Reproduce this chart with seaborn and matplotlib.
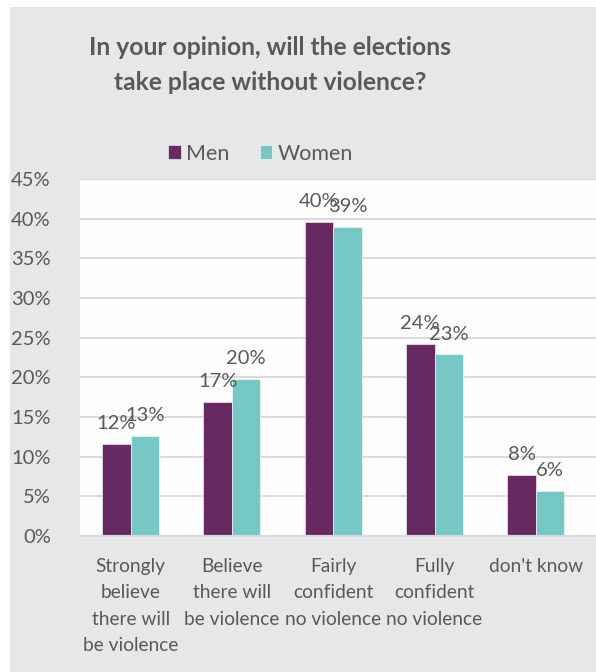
import matplotlib
matplotlib.use("Agg")
import matplotlib.pyplot as plt
from matplotlib.patches import Rectangle
import seaborn as sns
import pandas as pd

categories = [
    "Strongly\nbelieve\nthere will\nbe violence",
    "Believe\nthere will\nbe violence",
    "Fairly\nconfident\nno violence",
    "Fully\nconfident\nno violence",
    "don't know",
]
men = [11.6, 16.9, 39.6, 24.2, 7.7]
women = [12.6, 19.8, 39.0, 22.9, 5.7]
groups = ["Men", "Women"]
y_ticks = [0, 5, 10, 15, 20, 25, 30, 35, 40, 45]

df = pd.DataFrame({
    "category": categories * 2,
    "group": [groups[0]] * len(categories) + [groups[1]] * len(categories),
    "value": men + women,
})

sns.set_theme(style="white")
plt.rcParams["font.family"] = ["Lato", "DejaVu Sans"]

TEXT = "#595959"
BG = "#E6E7E9"
GRID = "#D9D9D9"
palette = {"Men": "#682861", "Women": "#75C8C6"}

W, H = 596, 672
fig = plt.figure(figsize=(W / 100, H / 100), dpi=100)
fig.patch.set_facecolor("white")
fig.patches.append(Rectangle((10 / W, 0), 1, (H - 7) / H, transform=fig.transFigure,
                             facecolor=BG, edgecolor="none", zorder=-10))

# plot area in pixel terms: left 80, right runs off the figure edge
left, top, bottom = 80, 179, 536
ax = fig.add_axes([left / W, (H - bottom) / H, (W - left) / W, (bottom - top) / H])
ax.set_facecolor("#FEFEFE")

sns.barplot(data=df, x="category", y="value", hue="group", palette=palette,
            width=0.563, saturation=1, ax=ax, edgecolor="white", linewidth=0.4)

step = 101.3
ax.set_xlim(-0.5, -0.5 + (W - left) / step)
ax.set_ylim(0, 45)
ax.set_yticks(y_ticks)
ax.set_yticklabels([f"{t}%" for t in y_ticks])
ax.yaxis.grid(True, color=GRID, linewidth=1.4)
ax.set_axisbelow(True)
for s in ["left", "right", "top"]:
    ax.spines[s].set_visible(False)
ax.spines["bottom"].set_color(GRID)
ax.spines["bottom"].set_linewidth(1.6)
ax.tick_params(axis="y", length=0, pad=21, labelsize=14.5, labelcolor=TEXT)
ax.tick_params(axis="x", length=0, pad=16, labelsize=13.8, labelcolor=TEXT)
for lab in ax.get_xticklabels():
    lab.set_linespacing(1.66)
ax.set_xlabel("")
ax.set_ylabel("")

# value labels above each bar
for container in ax.containers:
    for bar in container:
        v = bar.get_height()
        ax.annotate(f"{v:.0f}%", (bar.get_x() + bar.get_width() / 2, v),
                    xytext=(0, 10.5), textcoords="offset points",
                    ha="center", va="baseline", fontsize=14.5, color=TEXT)

handles, labels = ax.get_legend_handles_labels()
ax.legend(handles, labels, loc="center", bbox_to_anchor=(260.7 / W, 1 - 153.7 / H),
          bbox_transform=fig.transFigure, ncol=2, frameon=False, fontsize=15.5,
          handlelength=0.58, handleheight=0.58, handletextpad=0.25,
          columnspacing=1.4, labelcolor=TEXT)

fig.text(270 / W, 1 - 36 / H, "In your opinion, will the elections\ntake place without violence?",
         ha="center", va="top", fontsize=17.7, fontweight="bold", color=TEXT,
         linespacing=1.65)

fig.savefig("out.png", dpi=100)
